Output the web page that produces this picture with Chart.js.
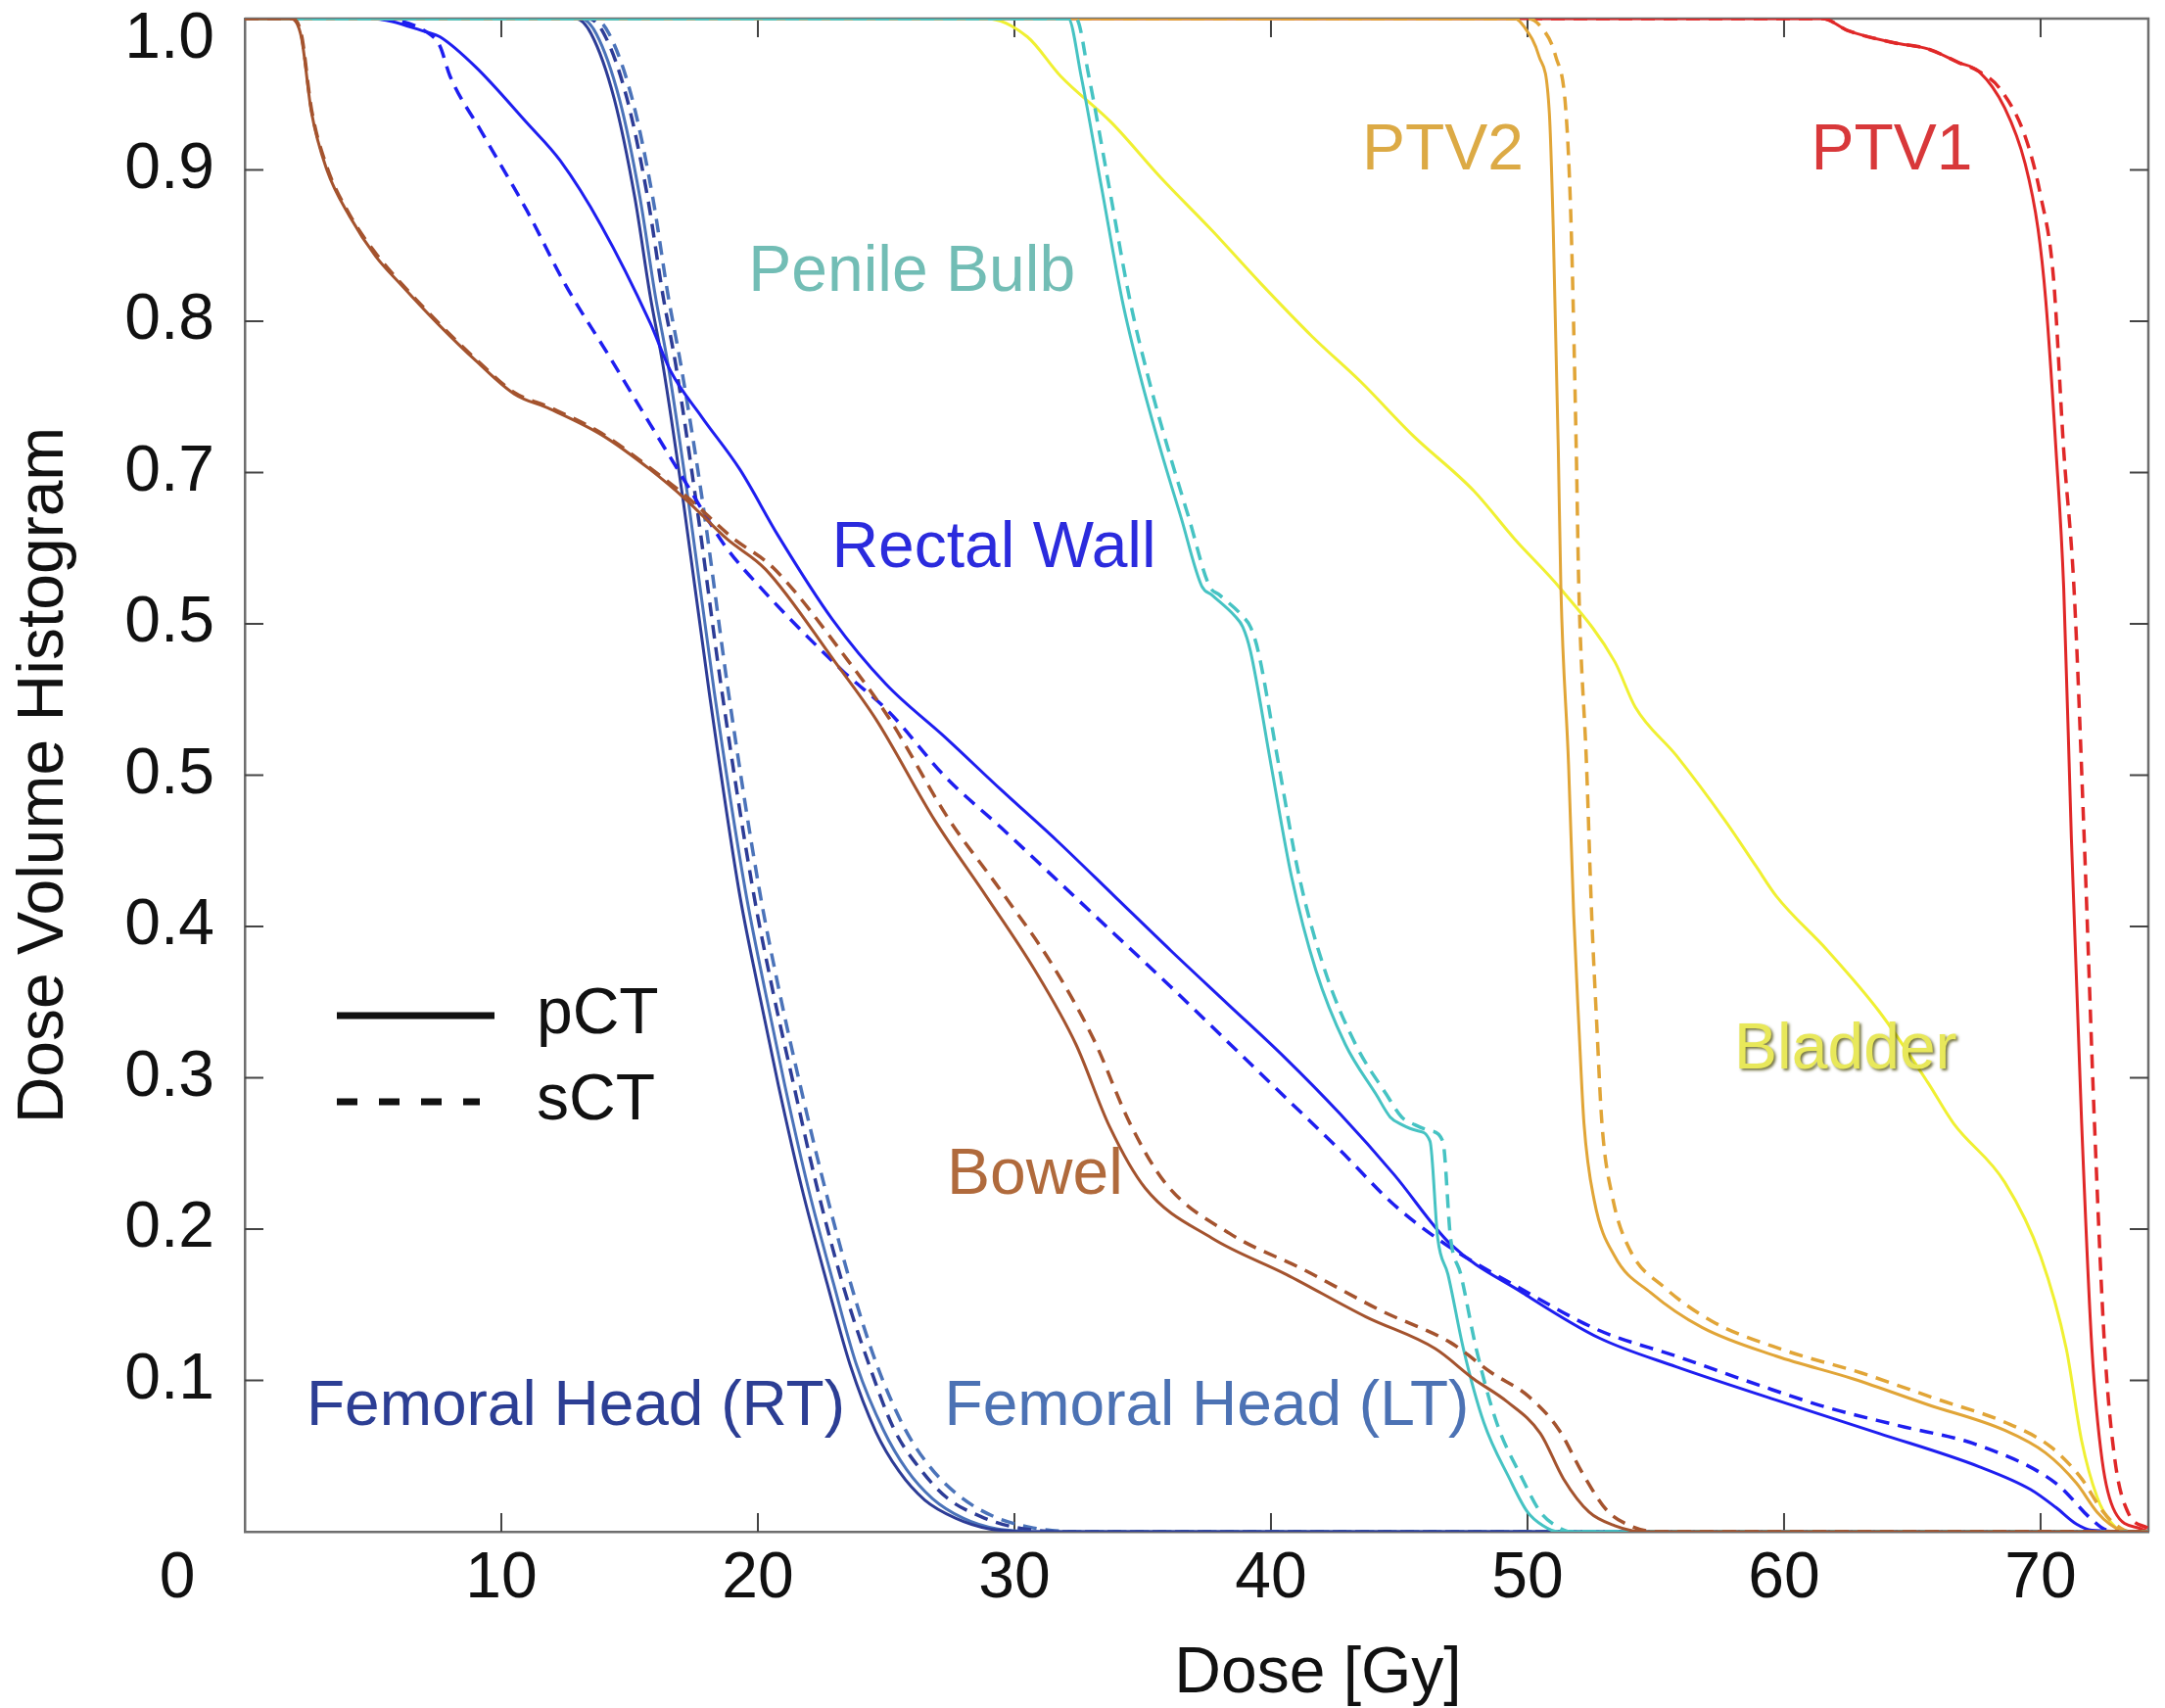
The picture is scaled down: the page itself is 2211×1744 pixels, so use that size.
<!DOCTYPE html>
<html>
<head>
<meta charset="utf-8">
<title>Dose Volume Histogram</title>
<script src="https://cdn.jsdelivr.net/npm/chart.js@4.4.0/dist/chart.umd.min.js"></script>
<style>
  html, body { margin: 0; padding: 0; background: #fff; }
  #wrap { width: 2211px; height: 1744px; }
</style>
</head>
<body>
<div id="wrap"><canvas id="dvhChart" width="2211" height="1744"></canvas></div>
<script>
// Axes
const xTickValues = [10, 20, 30, 40, 50, 60, 70];
const yTickValues = [0.1, 0.2, 0.3, 0.4, 0.5, 0.6, 0.7, 0.8, 0.9];
const yTickLabels = ['0.1', '0.2', '0.3', '0.4', '0.5', '0.5', '0.7', '0.8', '0.9'];

// Bowel
const bowelDose = [0, 1.8, 2.2, 2.6, 3.2, 4.1, 5.1, 6.1, 7.6, 9.0, 10.5, 11.9, 13.9, 15.8, 17.2, 18.8, 20.3, 23.0, 24.6, 26.9, 28.9, 30.8, 32.4, 33.7, 35.1, 37.7, 40.6, 43.7, 46.4, 47.9, 49.2, 50.5, 51.4, 52.4, 53.4, 54.5, 74.2];
const bowelPct  = [1, 1, 0.988, 0.938, 0.900, 0.869, 0.843, 0.824, 0.797, 0.774, 0.752, 0.742, 0.725, 0.702, 0.682, 0.656, 0.636, 0.575, 0.537, 0.470, 0.420, 0.371, 0.322, 0.268, 0.227, 0.194, 0.170, 0.142, 0.121, 0.101, 0.086, 0.065, 0.035, 0.013, 0.004, 0, 0];
const bowelSctDose = [0, 1.8, 2.2, 2.6, 3.2, 4.1, 5.1, 6.1, 7.6, 9.0, 10.5, 11.9, 13.9, 15.8, 17.3, 19.0, 20.6, 23.5, 25.1, 27.4, 29.5, 31.5, 33.1, 34.5, 35.9, 38.4, 41.3, 44.3, 47.0, 48.6, 50.0, 51.2, 52.2, 53.1, 54.0, 55.0, 74.2];
const bowelSct  = [1, 1, 0.990, 0.940, 0.902, 0.870, 0.845, 0.825, 0.798, 0.775, 0.753, 0.743, 0.726, 0.703, 0.683, 0.657, 0.637, 0.576, 0.538, 0.472, 0.423, 0.374, 0.325, 0.270, 0.230, 0.197, 0.173, 0.146, 0.125, 0.105, 0.090, 0.068, 0.037, 0.014, 0.004, 0, 0];

// Rectal wall
const rectumDose = [0, 4.9, 7.1, 7.6, 9.0, 11.0, 12.3, 13.9, 15.8, 16.6, 17.8, 19.3, 20.8, 22.9, 25.0, 27.3, 29.5, 31.7, 33.9, 36.1, 38.3, 40.5, 42.7, 44.8, 47.0, 49.8, 52.8, 55.8, 59.7, 63.7, 67.6, 69.6, 70.6, 71.4, 72.0, 74.2];
const rectumPct  = [1, 1, 0.991, 0.988, 0.968, 0.931, 0.906, 0.863, 0.799, 0.767, 0.737, 0.702, 0.658, 0.603, 0.560, 0.525, 0.490, 0.456, 0.420, 0.384, 0.349, 0.314, 0.276, 0.236, 0.190, 0.158, 0.128, 0.109, 0.087, 0.065, 0.043, 0.028, 0.016, 0.005, 0.001, 0];
const rectumSctDose = [0, 4.9, 7.1, 7.6, 8.0, 9.2, 11.0, 12.5, 14.2, 15.8, 17.2, 18.7, 20.1, 23.3, 25.1, 27.3, 29.5, 31.7, 33.9, 36.1, 38.3, 40.5, 42.7, 44.8, 46.8, 49.8, 52.8, 55.8, 59.0, 61.7, 64.5, 67.6, 70.6, 72.0, 72.6, 74.2];
const rectumSct  = [1, 1, 0.991, 0.982, 0.962, 0.926, 0.873, 0.824, 0.777, 0.732, 0.693, 0.652, 0.624, 0.569, 0.542, 0.499, 0.465, 0.430, 0.395, 0.360, 0.324, 0.288, 0.252, 0.216, 0.190, 0.160, 0.133, 0.116, 0.097, 0.082, 0.070, 0.057, 0.032, 0.008, 0.001, 0];

// Femoral heads
const femRtDose = [0, 12.9, 13.5, 14.4, 15.2, 15.8, 16.3, 17.1, 18.1, 19.25, 20.0, 20.8, 21.7, 22.7, 23.6, 24.6, 25.5, 26.5, 27.7, 29.0, 31.0, 74.2];
const femRtPct  = [1, 1, 0.990, 0.947, 0.882, 0.817, 0.771, 0.680, 0.555, 0.425, 0.360, 0.295, 0.228, 0.164, 0.110, 0.066, 0.040, 0.021, 0.009, 0.002, 0, 0];
const femLtDose = [0, 13.1, 13.7, 14.6, 15.4, 16.0, 16.5, 17.3, 18.3, 19.5, 20.25, 21.05, 21.95, 22.95, 23.85, 24.9, 25.8, 26.8, 28.0, 29.3, 31.3, 74.2];
const femLtPct  = [1, 1, 0.990, 0.947, 0.882, 0.817, 0.771, 0.680, 0.555, 0.425, 0.360, 0.295, 0.228, 0.164, 0.110, 0.067, 0.041, 0.022, 0.009, 0.002, 0, 0];
const femRtSctDose = [0, 13.4, 14.0, 14.9, 15.7, 16.3, 16.8, 17.6, 18.6, 19.8, 20.55, 21.4, 22.3, 23.3, 24.3, 25.3, 26.3, 27.4, 28.7, 30.0, 32.0, 74.2];
const femRtSct  = [1, 1, 0.990, 0.947, 0.882, 0.817, 0.771, 0.680, 0.555, 0.425, 0.360, 0.295, 0.228, 0.164, 0.112, 0.068, 0.042, 0.022, 0.010, 0.003, 0, 0];
const femLtSctDose = [0, 13.6, 14.2, 15.1, 15.9, 16.5, 17.0, 17.85, 18.85, 20.05, 20.8, 21.65, 22.6, 23.6, 24.6, 25.7, 26.7, 27.9, 29.2, 30.6, 32.5, 74.2];
const femLtSct  = [1, 1, 0.990, 0.947, 0.882, 0.817, 0.771, 0.680, 0.555, 0.425, 0.360, 0.295, 0.228, 0.165, 0.112, 0.069, 0.043, 0.023, 0.010, 0.003, 0, 0];

// Penile bulb
const penileDose = [0, 32.1, 32.6, 33.4, 34.2, 34.9, 35.7, 36.5, 37.3, 37.7, 38.6, 38.9, 39.2, 40.0, 40.8, 41.75, 42.9, 44.1, 44.65, 45.1, 45.7, 46.2, 46.5, 46.9, 47.5, 48.3, 49.3, 50.0, 50.6, 51.2, 74.2];
const penilePct  = [1, 1, 0.962, 0.888, 0.814, 0.764, 0.715, 0.670, 0.625, 0.619, 0.605, 0.598, 0.582, 0.507, 0.433, 0.371, 0.322, 0.289, 0.274, 0.269, 0.265, 0.258, 0.194, 0.170, 0.121, 0.072, 0.035, 0.013, 0.004, 0, 0];
const penileSctDose = [0, 32.4, 32.9, 33.7, 34.5, 35.2, 36.0, 36.8, 37.6, 38.0, 38.9, 39.2, 39.5, 40.3, 41.1, 42.1, 43.3, 44.5, 45.1, 45.6, 46.2, 46.7, 47.0, 47.4, 48.0, 48.8, 49.8, 50.5, 51.1, 51.7, 74.2];
const penileSct  = [1, 1, 0.962, 0.888, 0.814, 0.764, 0.715, 0.670, 0.625, 0.619, 0.605, 0.598, 0.582, 0.507, 0.433, 0.371, 0.322, 0.289, 0.274, 0.269, 0.265, 0.258, 0.194, 0.170, 0.121, 0.072, 0.035, 0.013, 0.004, 0, 0];

// Bladder
const bladderDose = [0, 28.9, 30.5, 31.8, 33.8, 35.7, 37.7, 39.6, 41.6, 43.5, 45.5, 47.9, 49.5, 51.3, 53.4, 54.2, 55.8, 57.7, 58.9, 59.7, 61.7, 63.7, 65.6, 66.6, 68.6, 70.0, 71.0, 71.6, 72.2, 72.75, 73.3, 74.2];
const bladderPct  = [1, 1, 0.988, 0.962, 0.931, 0.895, 0.860, 0.825, 0.790, 0.760, 0.725, 0.688, 0.656, 0.623, 0.575, 0.545, 0.513, 0.470, 0.440, 0.420, 0.384, 0.344, 0.297, 0.270, 0.231, 0.182, 0.121, 0.060, 0.023, 0.006, 0, 0];

// PTV2
const ptv2Dose = [0, 49.5, 49.85, 50.45, 50.85, 51.0, 51.2, 51.3, 51.6, 51.8, 52.0, 52.2, 52.6, 53.4, 54.8, 56.8, 59.7, 62.7, 65.6, 68.6, 70.2, 71.4, 72.2, 72.7, 73.3, 74.2];
const ptv2Pct  = [1, 1, 0.995, 0.975, 0.938, 0.863, 0.715, 0.624, 0.507, 0.408, 0.335, 0.270, 0.219, 0.182, 0.158, 0.135, 0.116, 0.101, 0.084, 0.067, 0.052, 0.032, 0.013, 0.005, 0, 0];
const ptv2SctDose = [0, 50.0, 50.5, 51.1, 51.5, 51.7, 51.9, 52.0, 52.3, 52.5, 52.7, 52.9, 53.3, 54.0, 55.3, 57.2, 60.0, 63.0, 65.9, 68.8, 70.4, 71.6, 72.4, 72.9, 73.5, 74.2];
const ptv2Sct  = [1, 1, 0.995, 0.975, 0.938, 0.863, 0.715, 0.624, 0.507, 0.408, 0.335, 0.270, 0.222, 0.186, 0.162, 0.139, 0.120, 0.105, 0.088, 0.071, 0.056, 0.035, 0.014, 0.005, 0, 0];

// PTV1
const ptv1Dose = [0, 61.5, 62.5, 64.3, 65.6, 66.8, 67.6, 68.6, 69.4, 69.9, 70.2, 70.6, 70.9, 71.2, 71.6, 72.0, 72.4, 72.9, 73.9, 74.2];
const ptv1Pct  = [1, 1, 0.992, 0.984, 0.980, 0.971, 0.965, 0.941, 0.904, 0.861, 0.814, 0.715, 0.624, 0.458, 0.270, 0.121, 0.047, 0.013, 0.002, 0];
const ptv1SctDose = [0, 61.5, 62.5, 64.3, 65.6, 66.8, 67.6, 68.4, 69.4, 70.0, 70.5, 70.9, 71.3, 71.7, 72.1, 72.5, 72.9, 73.4, 74.2];
const ptv1Sct  = [1, 1, 0.992, 0.984, 0.980, 0.971, 0.965, 0.954, 0.922, 0.883, 0.829, 0.715, 0.624, 0.458, 0.270, 0.121, 0.047, 0.013, 0.002];

const FONT = '"Liberation Sans", Arial, Helvetica, sans-serif';
const TICK = 19;

const colors = {
  bowel: '#a4532e',
  rectum: '#1e1ef0',
  femRt: '#2d3c96',
  femLt: '#4b73b9',
  penile: '#46c3c3',
  bladder: '#f0f032',
  ptv2: '#e1a537',
  ptv1: '#e02828'
};

// name labels, placed in data coordinates
const labelSpots = [
  { text: 'Penile Bulb', x: 26.0, y: 0.832, color: '#72bdb5', size: 66 },
  { text: 'Rectal Wall', x: 29.2, y: 0.649, color: '#2b2bdd', size: 66 },
  { text: 'PTV2', x: 46.7, y: 0.912, color: '#dcaa45', size: 66 },
  { text: 'PTV1', x: 64.2, y: 0.912, color: '#d8383a', size: 66 },
  { text: 'Bladder', x: 62.4, y: 0.318, color: '#e8e85a', size: 66, shadow: true },
  { text: 'Bowel', x: 30.8, y: 0.235, color: '#b06a3c', size: 66 },
  { text: 'Femoral Head (RT)', x: 12.9, y: 0.082, color: '#2c3e94', size: 64 },
  { text: 'Femoral Head (LT)', x: 37.5, y: 0.082, color: '#4c72b4', size: 64 }
];

function pts(xs, ys) {
  return xs.map((x, i) => ({ x: x, y: ys[i] }));
}

function serie(label, dose, vol, color, dashed) {
  return {
    label: label,
    data: pts(dose, vol),
    borderColor: color,
    borderWidth: dashed ? 3.5 : 3,
    borderDash: dashed ? [14, 9] : [],
    pointRadius: 0,
    cubicInterpolationMode: 'monotone',
    fill: false
  };
}

// first dataset is drawn on top
const datasets = [
  serie('Bowel pCT', bowelDose, bowelPct, colors.bowel, false),
  serie('Bowel sCT', bowelSctDose, bowelSct, colors.bowel, true),
  serie('Penile Bulb pCT', penileDose, penilePct, colors.penile, false),
  serie('Penile Bulb sCT', penileSctDose, penileSct, colors.penile, true),
  serie('PTV2 pCT', ptv2Dose, ptv2Pct, colors.ptv2, false),
  serie('PTV2 sCT', ptv2SctDose, ptv2Sct, colors.ptv2, true),
  serie('PTV1 pCT', ptv1Dose, ptv1Pct, colors.ptv1, false),
  serie('PTV1 sCT', ptv1SctDose, ptv1Sct, colors.ptv1, true),
  serie('Bladder pCT', bladderDose, bladderPct, colors.bladder, false),
  serie('Rectal Wall pCT', rectumDose, rectumPct, colors.rectum, false),
  serie('Rectal Wall sCT', rectumSctDose, rectumSct, colors.rectum, true),
  serie('Femoral Head (RT) pCT', femRtDose, femRtPct, colors.femRt, false),
  serie('Femoral Head (LT) pCT', femLtDose, femLtPct, colors.femLt, false),
  serie('Femoral Head (RT) sCT', femRtSctDose, femRtSct, colors.femRt, true),
  serie('Femoral Head (LT) sCT', femLtSctDose, femLtSct, colors.femLt, true)
];

// box, inner ticks, legend, labels
const framePlugin = {
  id: 'frame',
  beforeDatasetsDraw(chart) {
    const { ctx, chartArea: a, scales: { x, y } } = chart;
    ctx.save();
    ctx.strokeStyle = '#6e6e6e';
    ctx.lineWidth = 2.5;
    ctx.beginPath();
    ctx.moveTo(a.left, a.top);
    ctx.lineTo(a.right, a.top);
    ctx.lineTo(a.right, a.bottom);
    ctx.stroke();

    ctx.strokeStyle = '#444';
    ctx.lineWidth = 2;
    ctx.beginPath();
    xTickValues.forEach(v => {
      const px = x.getPixelForValue(v);
      ctx.moveTo(px, a.bottom); ctx.lineTo(px, a.bottom - TICK);
      ctx.moveTo(px, a.top); ctx.lineTo(px, a.top + TICK);
    });
    yTickValues.forEach(v => {
      const py = y.getPixelForValue(v);
      ctx.moveTo(a.left, py); ctx.lineTo(a.left + TICK, py);
      ctx.moveTo(a.right, py); ctx.lineTo(a.right - TICK, py);
    });
    ctx.stroke();
    ctx.restore();
  },
  afterDraw(chart) {
    const { ctx, chartArea: a, scales: { x, y } } = chart;
    ctx.save();
    ctx.fillStyle = '#111';
    ctx.font = '66px ' + FONT;
    ctx.textBaseline = 'middle';

    // corner labels
    ctx.textAlign = 'center';
    ctx.fillText('0', a.left - 69, a.bottom + 49);
    ctx.textAlign = 'right';
    ctx.fillText('1.0', a.left - 31, a.top + 22);

    // x title
    ctx.textAlign = 'center';
    ctx.fillText('Dose [Gy]', a.left + 1096, a.bottom + 146);

    // legend
    ctx.strokeStyle = '#111';
    ctx.lineWidth = 7;
    ctx.beginPath();
    ctx.moveTo(a.left + 94, a.bottom - 527);
    ctx.lineTo(a.left + 255, a.bottom - 527);
    ctx.stroke();
    ctx.setLineDash([21, 22]);
    ctx.beginPath();
    ctx.moveTo(a.left + 94, a.bottom - 439);
    ctx.lineTo(a.left + 240, a.bottom - 439);
    ctx.stroke();
    ctx.setLineDash([]);
    ctx.textAlign = 'left';
    ctx.fillText('pCT', a.left + 298, a.bottom - 527);
    ctx.fillText('sCT', a.left + 298, a.bottom - 439);

    // structure names
    ctx.textAlign = 'center';
    labelSpots.forEach(l => {
      ctx.save();
      ctx.font = l.size + 'px ' + FONT;
      ctx.fillStyle = l.color;
      if (l.shadow) {
        ctx.shadowColor = 'rgba(70, 70, 0, 0.75)';
        ctx.shadowOffsetX = 2;
        ctx.shadowOffsetY = 2;
        ctx.shadowBlur = 3;
      }
      ctx.fillText(l.text, x.getPixelForValue(l.x), y.getPixelForValue(l.y));
      ctx.restore();
    });
    ctx.restore();
  }
};

new Chart(document.getElementById('dvhChart').getContext('2d'), {
  type: 'line',
  data: { datasets: datasets },
  options: {
    responsive: false,
    animation: false,
    devicePixelRatio: 1,
    layout: { padding: { top: 19, right: 17, left: 0, bottom: 0 } },
    plugins: {
      legend: { display: false },
      tooltip: { enabled: false }
    },
    scales: {
      x: {
        type: 'linear',
        min: 0,
        max: 74.2,
        grid: { display: false, drawTicks: false },
        border: { color: '#6e6e6e', width: 2.5 },
        afterBuildTicks: s => { s.ticks = xTickValues.map(v => ({ value: v })); },
        ticks: {
          font: { family: FONT, size: 66 },
          color: '#111',
          padding: 9,
          maxRotation: 0,
          autoSkip: false,
          callback: v => String(v)
        },
        afterFit: s => { s.height = 180; s.paddingLeft = 0; s.paddingRight = 0; }
      },
      y: {
        type: 'linear',
        min: 0,
        max: 1,
        grid: { display: false, drawTicks: false },
        border: { color: '#6e6e6e', width: 2.5 },
        afterBuildTicks: s => { s.ticks = yTickValues.map(v => ({ value: v })); },
        ticks: {
          font: { family: FONT, size: 66 },
          color: '#111',
          padding: 31,
          autoSkip: false,
          callback: (v, i) => yTickLabels[i]
        },
        title: {
          display: true,
          text: 'Dose Volume Histogram',
          font: { family: FONT, size: 66 },
          color: '#111',
          padding: { top: 6, bottom: 0 }
        },
        afterFit: s => { s.width = 250; s.paddingTop = 0; s.paddingBottom = 0; }
      }
    }
  },
  plugins: [framePlugin]
});
</script>
</body>
</html>
